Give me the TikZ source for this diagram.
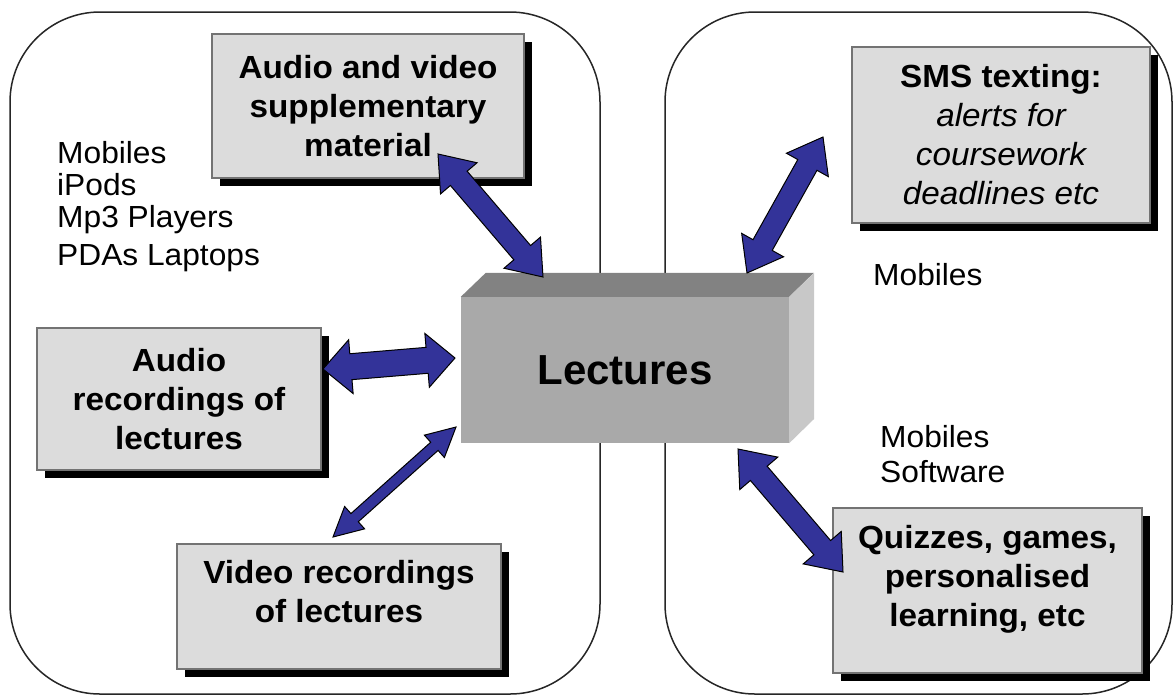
\documentclass[tikz,border=0pt]{standalone}
\usepackage{fontspec}
\setmainfont[FakeStretch=1.04]{Liberation Sans}
\newfontfamily\lecfont{Liberation Sans}
\usetikzlibrary{calc,shadows}
\definecolor{arrowblue}{HTML}{333399}
\definecolor{boxgray}{HTML}{DCDCDC}
\definecolor{lecfrontc}{HTML}{A9A9A9}
\definecolor{lectopc}{HTML}{828282}
\definecolor{lecsidec}{HTML}{C8C8C8}
\tikzset{
  container/.style={draw=black!85, line width=1.5pt, rounded corners=90pt},
  infobox/.style={draw=black!55, line width=1.2pt, fill=boxgray, inner sep=0pt,
    drop shadow={shadow xshift=8pt, shadow yshift=-8pt, fill=black, opacity=1}},
  boxtext/.style={align=center, font=\fontsize{32}{39}\selectfont\bfseries, inner sep=0pt},
  plaintext/.style={align=left, font=\fontsize{30.5}{32}\selectfont, inner sep=0pt, anchor=west},
  arrowpoly/.style={fill=arrowblue, draw=black, line width=1pt, line join=miter},
}
\newcommand\blockarrow[6]{%
  \coordinate (#1p) at ($(#2)!#6!(#3)$);
  \coordinate (#1q) at ($(#3)!#6!(#2)$);
  \draw[arrowpoly] (#2) -- ($(#1p)!#5!90:(#3)$) -- ($(#1p)!#4!90:(#3)$)
    -- ($(#1q)!#4!-90:(#2)$) -- ($(#1q)!#5!-90:(#2)$) -- (#3)
    -- ($(#1q)!#5!90:(#2)$) -- ($(#1q)!#4!90:(#2)$)
    -- ($(#1p)!#4!-90:(#3)$) -- ($(#1p)!#5!-90:(#3)$) -- cycle;}
\begin{document}
\begin{tikzpicture}[x=1pt,y=-1pt]
\useasboundingbox (0,0) rectangle (1174,697);
\fill[white] (0,0) rectangle (1174,697);
% containers
\draw[container] (10,12) rectangle (600,694);
\draw[container] (665,12) rectangle (1172,694);
% boxes
\node[infobox, minimum width=312pt, minimum height=144pt] (avs) at (368,106) {};
\node[boxtext] (avst) at (avs.center) {Audio and video\\supplementary\\material};
\node[infobox, minimum width=284pt, minimum height=142pt] (arec) at (179,399) {};
\node[boxtext] (arect) at (arec.center) {Audio\\recordings of\\lectures};
\node[infobox, minimum width=324pt, minimum height=125pt] (vrec) at (339,606.5) {};
\node[boxtext] (vrect) at (339,592) {Video recordings\\of lectures};
\node[infobox, minimum width=298pt, minimum height=176pt] (sms) at (1001,135) {};
\node[boxtext] (smst) at (sms.center) {SMS texting:\\\normalfont\itshape alerts for\\\normalfont\itshape coursework\\\normalfont\itshape deadlines etc};
\node[infobox, minimum width=309pt, minimum height=165pt] (quiz) at (987.5,590.5) {};
\node[boxtext] (quizt) at (987.5,579) {Quizzes, games,\\personalised\\learning, etc};
% plain labels
\node[plaintext] (devices) at (57,207) {Mobiles\\iPods\\Mp3 Players\\[6pt]PDAs Laptops};
\node[plaintext] (mob1) at (873,275) {Mobiles};
\node[plaintext] (mob2) at (880,454) {Mobiles\\[3pt]Software};
% lectures cuboid
\node[fill=lecfrontc, minimum width=328pt, minimum height=146pt, inner sep=0pt,
  font=\lecfont\fontsize{42}{48}\selectfont\bfseries] (lec) at (625,370) {Lectures};
\fill[lectopc] (lec.north west) -- ++(25,-24) -- ++(328,0) -- (lec.north east) -- cycle;
\fill[lecsidec] (lec.north east) -- ++(25,-24) -- ++(0,146) -- (lec.south east) -- cycle;
% arrow end points
\coordinate (a1s) at (438,154); \coordinate (a1e) at (543,277);
\coordinate (a2s) at (323,369); \coordinate (a2e) at (455,358);
\coordinate (a3s) at (333,537); \coordinate (a3e) at (456,427);
\coordinate (a4s) at (823,137); \coordinate (a4e) at (747,273);
\coordinate (a5s) at (738,449); \coordinate (a5e) at (843,572);
\blockarrow{ar1}{a1s}{a1e}{11pt}{24pt}{32pt}
\blockarrow{ar2}{a2s}{a2e}{13pt}{27pt}{28pt}
\blockarrow{ar3}{a3s}{a3e}{5.5pt}{15pt}{29pt}
\blockarrow{ar4}{a4s}{a4e}{11pt}{24pt}{32pt}
\blockarrow{ar5}{a5s}{a5e}{11pt}{25pt}{32pt}
\end{tikzpicture}
\end{document}
